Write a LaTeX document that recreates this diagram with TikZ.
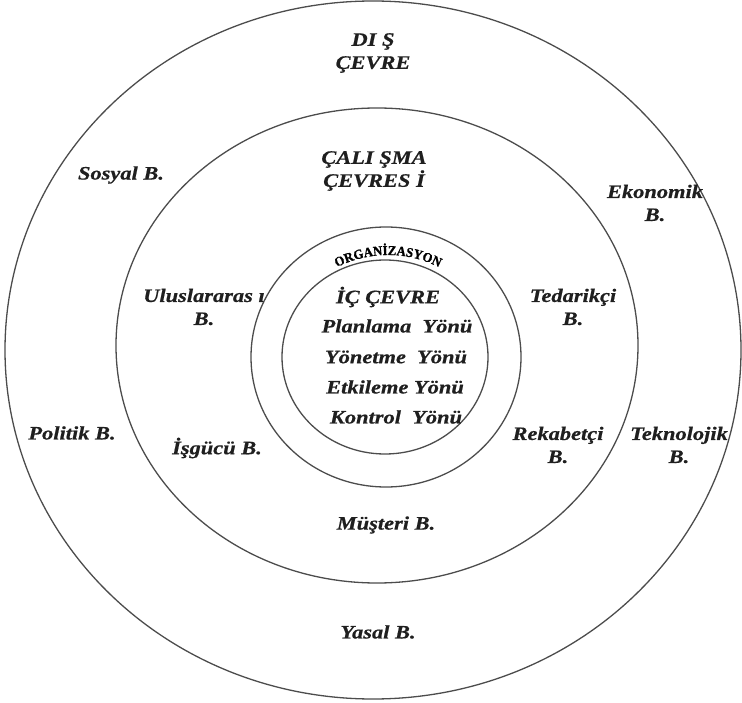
\documentclass[tikz,border=0pt]{standalone}
\usepackage{fontspec}
\setmainfont{Liberation Serif}
\newfontfamily\lblfont[FakeStretch=1.18, FakeBold=0.6]{Liberation Serif}
\newfontfamily\orgfont[FakeStretch=0.95, FakeBold=1.2]{Liberation Serif}
\usetikzlibrary{shapes.geometric,decorations.text}
\tikzset{
  ring/.style={ellipse, draw=black!70, line width=1.3pt, inner sep=0pt, minimum width=#1},
  lbl/.style={font=\lblfont\fontsize{19}{23}\selectfont\bfseries\itshape, text=black!88, align=center, inner sep=0pt},
  inlbl/.style={font=\lblfont\fontsize{19}{23}\selectfont\bfseries\itshape, text=black!88, inner sep=0pt},
}
\begin{document}
\begin{tikzpicture}[x=1pt,y=-1pt]
\useasboundingbox (0,0) rectangle (742,703);
% rings
\node[ring=736pt, minimum height=698pt] (outer) at (373,350) {};
\node[ring=522pt, minimum height=475pt] (middle) at (377,345.5) {};
\node[ring=270pt, minimum height=260pt] (org) at (386,357) {};
\node[ring=206pt, minimum height=194pt] (inner) at (385,357) {};
% organizasyon arc text
\coordinate (orgc) at (388,367);
\path[decorate, decoration={text along path, text align=center,
  text={|\orgfont\fontsize{13.5}{14}\selectfont\bfseries|ORGANİZASYON}}]
  (orgc) ++(150:112pt) arc[start angle=150, end angle=30, radius=112pt];
% outer labels
\node[lbl] (dis) at (373,53) {DI Ş\\ÇEVRE};
\node[lbl] (sosyal) at (121,175) {Sosyal B.};
\node[lbl] (ekonomik) at (655,203) {Ekonomik\\B.};
\node[lbl] (politik) at (72,433) {Politik B.};
\node[lbl] (teknolojik) at (679,445) {Teknolojik\\B.};
\node[lbl] (yasal) at (378,632) {Yasal B.};
% middle labels
\node[lbl] (calisma) at (374,171) {ÇALI ŞMA\\ÇEVRES İ};
\node[lbl] (ulus) at (204,307) {Uluslararas ı\\B.};
\node[lbl] (tedarik) at (573,307) {Tedarikçi\\B.};
\node[lbl] (isgucu) at (217,448) {İşgücü B.};
\node[lbl] (rekabet) at (558,445) {Rekabetçi\\B.};
\node[lbl] (musteri) at (386,525) {Müşteri B.};
% inner labels
\node[inlbl] (icc) at (388,297) {İÇ ÇEVRE};
\node[inlbl] (plan) at (397,326) {Planlama\ \ Yönü};
\node[inlbl] (yonet) at (396,357) {Yönetme\ \ Yönü};
\node[inlbl] (etki) at (395,387) {Etkileme Yönü};
\node[inlbl] (kontrol) at (396,417) {Kontrol\ \ Yönü};
\end{tikzpicture}
\end{document}
